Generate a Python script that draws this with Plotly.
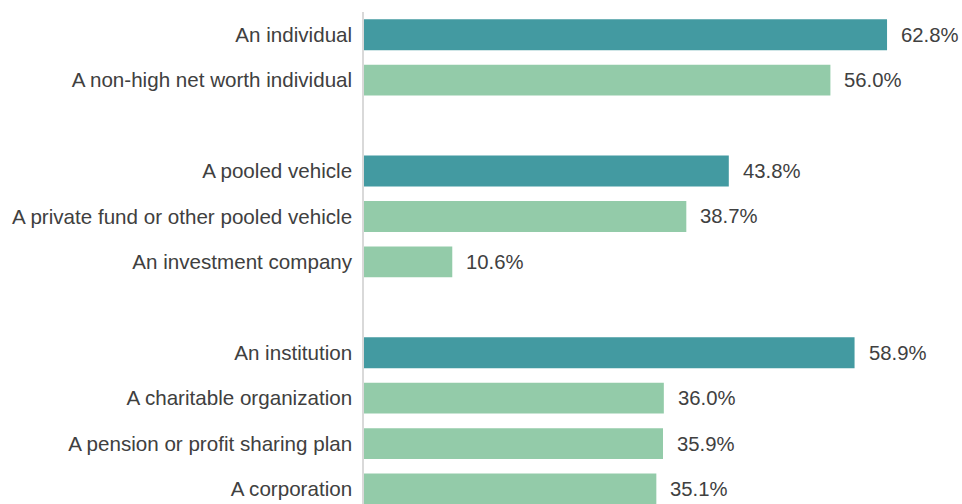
import plotly.graph_objects as go

# Category order (top to bottom); blank entries are group spacers
category_order = [
    "An individual", "A non-high net worth individual", " ",
    "A pooled vehicle", "A private fund or other pooled vehicle", "An investment company", "  ",
    "An institution", "A charitable organization", "A pension or profit sharing plan", "A corporation",
]

group_labels = ["An individual", "A pooled vehicle", "An institution"]
group_values = [62.8, 43.8, 58.9]

sub_labels = ["A non-high net worth individual", "A private fund or other pooled vehicle",
              "An investment company", "A charitable organization",
              "A pension or profit sharing plan", "A corporation"]
sub_values = [56.0, 38.7, 10.6, 36.0, 35.9, 35.1]

DARK = "#439AA1"
LIGHT = "#93CBA9"
TEXT = "#404040"
FONT = "Liberation Sans, Arial, sans-serif"

fig = go.Figure()
fig.add_trace(go.Bar(x=group_values, y=group_labels, orientation="h",
                     marker=dict(color=DARK, line=dict(width=0)), hoverinfo="x+y"))
fig.add_trace(go.Bar(x=sub_values, y=sub_labels, orientation="h",
                     marker=dict(color=LIGHT, line=dict(width=0)), hoverinfo="x+y"))

for labels, values in ((group_labels, group_values), (sub_labels, sub_values)):
    for lab, v in zip(labels, values):
        fig.add_annotation(x=v, y=lab, text=f"{v:.1f}%", showarrow=False,
                           xanchor="left", xshift=12, yshift=0,
                           font=dict(size=20.3, color=TEXT, family=FONT))

fig.update_layout(
    width=962, height=504,
    margin=dict(l=364, r=0, t=12, b=0, autoexpand=False),
    barmode="overlay", bargap=0.32,
    plot_bgcolor="white", paper_bgcolor="white",
    showlegend=False,
    font=dict(family=FONT, size=20.5, color=TEXT),
    xaxis=dict(range=[0, 71.8], visible=False, showgrid=False, zeroline=False,
               automargin=False),
    yaxis=dict(type="category", categoryorder="array", categoryarray=category_order,
               range=[10.33, -0.5], showline=True, linecolor="#D9D9D9", linewidth=1.5,
               showgrid=False, zeroline=False, ticks="", ticklabelstandoff=6,
               automargin=False,
               tickfont=dict(size=20.6, color=TEXT, family=FONT)),
)

fig.write_html(
    "out.html",
    config={"displayModeBar": False},
    post_script="document.body.style.margin='0';document.body.style.overflow='hidden';",
)
